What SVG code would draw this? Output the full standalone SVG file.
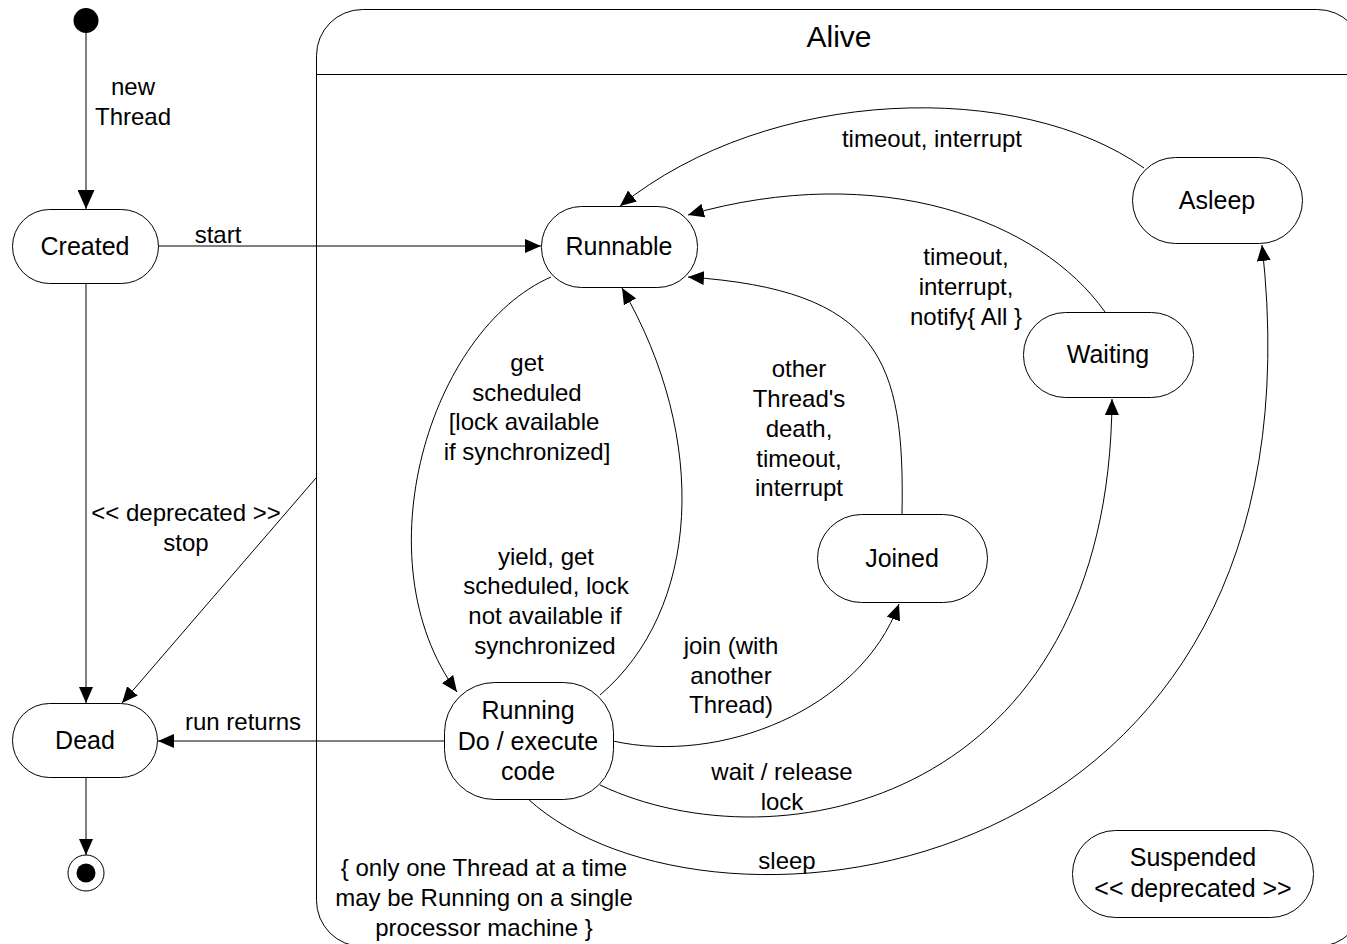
<svg xmlns="http://www.w3.org/2000/svg" width="1347" height="944" viewBox="0 0 1347 944">
<defs>
<style>
.n{fill:#fff;stroke:#000;stroke-width:1}
.c{fill:none;stroke:#000;stroke-width:1}
.t{font-family:"Liberation Sans",Arial,sans-serif;font-size:25px;fill:#000;text-anchor:middle}
.l{font-family:"Liberation Sans",Arial,sans-serif;font-size:24px;fill:#000;text-anchor:middle}
</style>
<marker id="a" viewBox="0 0 16 14" refX="16" refY="7" markerWidth="16" markerHeight="14" markerUnits="userSpaceOnUse" orient="auto"><path d="M0,0 L16,7 L0,14 z" fill="#000"/></marker>
<marker id="b" viewBox="0 0 19 17" refX="19" refY="8.5" markerWidth="19" markerHeight="17" markerUnits="userSpaceOnUse" orient="auto"><path d="M0,0 L19,8.5 L0,17 z" fill="#000"/></marker>
</defs>
<rect width="1347" height="944" fill="#fff"/>
<g id="alive">
<rect class="n" x="316.5" y="9.5" width="1047" height="937" rx="46" ry="46"/>
<line class="c" x1="316.5" y1="74.5" x2="1363.5" y2="74.5"/>
<text class="t" x="839" y="47" style="font-size:30px">Alive</text>
</g>
<g id="connectors">
<line class="c" x1="86" y1="33" x2="86" y2="209" marker-end="url(#b)"/>
<line class="c" x1="158" y1="246" x2="541" y2="246" marker-end="url(#a)"/>
<line class="c" x1="86" y1="283" x2="86" y2="703" marker-end="url(#a)"/>
<line class="c" x1="316" y1="478" x2="122" y2="703" marker-end="url(#a)"/>
<line class="c" x1="86" y1="777" x2="86" y2="855" marker-end="url(#a)"/>
<line class="c" x1="444" y1="741" x2="158" y2="741" marker-end="url(#a)"/>
<path class="c" d="M1144,168 C1020,80 770,85 620,206" marker-end="url(#a)"/>
<path class="c" d="M1105,312 C1040,220 880,160 688,215" marker-end="url(#a)"/>
<path class="c" d="M551,277 C430,330 360,560 457,692" marker-end="url(#a)"/>
<path class="c" d="M600,695 C700,610 710,440 622,288" marker-end="url(#a)"/>
<path class="c" d="M902,514 C905,360 880,290 688,277" marker-end="url(#a)"/>
<path class="c" d="M613,741 C720,765 860,710 899,604" marker-end="url(#a)"/>
<path class="c" d="M600,785 C780,870 1110,800 1112,399" marker-end="url(#a)"/>
<path class="c" d="M528,799 C710,965 1335,890 1262,245" marker-end="url(#a)"/>
<text class="l" x="133" y="94.5">new</text>
<text class="l" x="133" y="124.5">Thread</text>
<text class="l" x="218" y="242.5">start</text>
<text class="l" x="186" y="520.5">&lt;&lt; deprecated &gt;&gt;</text>
<text class="l" x="186" y="550.5">stop</text>
<text class="l" x="243" y="729.5">run returns</text>
<text class="l" x="932" y="146.5">timeout, interrupt</text>
<text class="l" x="966" y="264.5">timeout,</text>
<text class="l" x="966" y="294.5">interrupt,</text>
<text class="l" x="966" y="324.5">notify{ All }</text>
<text class="l" x="527" y="370.5">get</text>
<text class="l" x="527" y="400.5">scheduled</text>
<text class="l" x="524" y="429.5">[lock available</text>
<text class="l" x="527" y="459.5">if synchronized]</text>
<text class="l" x="799" y="376.5">other</text>
<text class="l" x="799" y="406.5">Thread's</text>
<text class="l" x="799" y="436.5">death,</text>
<text class="l" x="799" y="466.5">timeout,</text>
<text class="l" x="799" y="495.5">interrupt</text>
<text class="l" x="546" y="564.5">yield, get</text>
<text class="l" x="546" y="593.5">scheduled, lock</text>
<text class="l" x="545" y="623.5">not available if</text>
<text class="l" x="545" y="653.5">synchronized</text>
<text class="l" x="731" y="653.5">join (with</text>
<text class="l" x="731" y="683.5">another</text>
<text class="l" x="731" y="712.5">Thread)</text>
<text class="l" x="782" y="779.5">wait / release</text>
<text class="l" x="782" y="809.5">lock</text>
<text class="l" x="787" y="868.5">sleep</text>
</g>
<g id="initial"><circle cx="86" cy="20.5" r="12.5" fill="#000"/></g>
<g id="created"><rect class="n" x="12.5" y="209.5" width="146" height="74" rx="37" ry="37"/><text class="t" x="85" y="255">Created</text></g>
<g id="dead"><rect class="n" x="12.5" y="703.5" width="145" height="74" rx="37" ry="37"/><text class="t" x="85" y="749">Dead</text></g>
<g id="final"><circle cx="86" cy="873" r="18" fill="#fff" stroke="#000" stroke-width="1"/><circle cx="86" cy="873" r="9.5" fill="#000"/></g>
<g id="runnable"><rect class="n" x="541.5" y="206.5" width="156" height="81" rx="40" ry="40"/><text class="t" x="619" y="255">Runnable</text></g>
<g id="asleep"><rect class="n" x="1132.5" y="157.5" width="170" height="86" rx="43" ry="43"/><text class="t" x="1217" y="209">Asleep</text></g>
<g id="waiting"><rect class="n" x="1023.5" y="312.5" width="170" height="85" rx="42" ry="42"/><text class="t" x="1108" y="363">Waiting</text></g>
<g id="joined"><rect class="n" x="817.5" y="514.5" width="170" height="88" rx="44" ry="44"/><text class="t" x="902" y="567">Joined</text></g>
<g id="running"><rect class="n" x="444.5" y="682.5" width="169" height="117" rx="50" ry="50"/><text class="t" x="528" y="719">Running</text><text class="t" x="528" y="750">Do / execute</text><text class="t" x="528" y="780">code</text></g>
<g id="suspended"><rect class="n" x="1072.5" y="830.5" width="241" height="87" rx="43" ry="43"/><text class="t" x="1193" y="866">Suspended</text><text class="t" x="1193" y="897">&lt;&lt; deprecated &gt;&gt;</text></g>
<g id="note"><text class="l" x="484" y="875.5">{ only one Thread at a time</text><text class="l" x="484" y="905.5">may be Running on a single</text><text class="l" x="484" y="935.5">processor machine }</text></g>
</svg>
